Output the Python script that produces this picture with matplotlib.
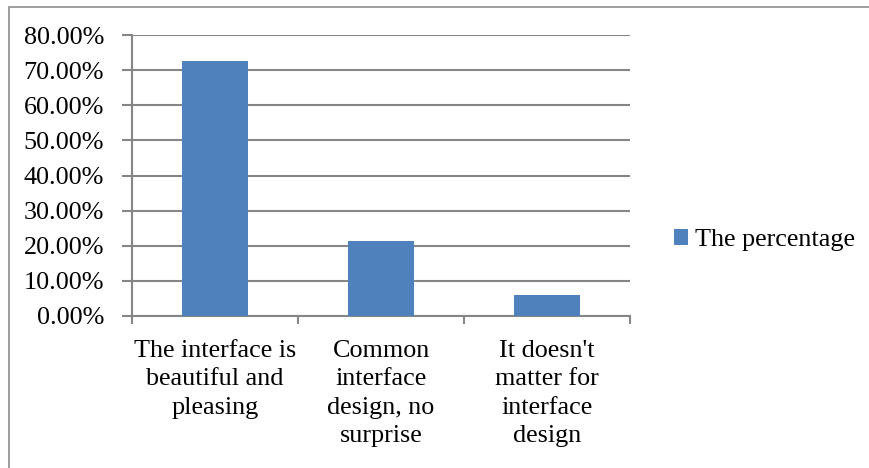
import numpy as np
import matplotlib
matplotlib.use("Agg")
import matplotlib.pyplot as plt
from matplotlib.patches import Rectangle
from matplotlib.ticker import FuncFormatter

categories = ["The interface is\nbeautiful and\npleasing",
              "Common\ninterface\ndesign, no\nsurprise",
              "It doesn't\nmatter for\ninterface\ndesign"]
values = [72.7, 21.4, 5.9]
series_name = "The percentage"

plt.rcParams["font.family"] = ["Liberation Serif", "DejaVu Serif"]

bar_color = "#4f81bd"
grid_color = "#868686"
fs = 18.8

fig = plt.figure(figsize=(8.69, 4.68), dpi=100)
ax = fig.add_axes([132 / 869, 152 / 468, 498 / 869, 281 / 468])

# outer chart border
fig.patches.append(Rectangle((9 / 869, -0.1), 1.2, (468 - 7) / 468 + 0.1,
                             transform=fig.transFigure, fill=False,
                             edgecolor="#8c8c8c", linewidth=1.2))

x = np.arange(len(categories)) + 0.5
bars = ax.bar(x, values, width=0.4, color=bar_color, label=series_name, zorder=3)

ax.set_xlim(0, len(categories))
ax.set_ylim(0, 80)
ax.set_yticks(np.arange(0, 81, 10))
ax.yaxis.set_major_formatter(FuncFormatter(lambda v, p: "%.2f%%" % v))
ax.grid(axis="y", color=grid_color, linewidth=1.5, zorder=0)
ax.set_axisbelow(True)

for side in ["top", "right"]:
    ax.spines[side].set_visible(False)
for side in ["left", "bottom"]:
    ax.spines[side].set_color(grid_color)
    ax.spines[side].set_linewidth(1.5)

ax.tick_params(axis="y", length=7, width=1.5, color=grid_color, labelsize=fs, pad=13)
ax.set_xticks(np.arange(len(categories) + 1))
ax.set_xticklabels([])
ax.tick_params(axis="x", length=6, width=1.5, color=grid_color)

for xi, label in zip(x, categories):
    ax.annotate(label, xy=(xi, 0), xycoords=("data", "axes fraction"),
                xytext=(0, -17), textcoords="offset points",
                ha="center", va="top", fontsize=fs, linespacing=1.38)

fig.legend(handles=[bars], labels=[series_name], loc="center left",
           bbox_to_anchor=(650 / 869, 1 - 240 / 468), frameon=False,
           fontsize=fs, handlelength=0.54, handleheight=0.54, handletextpad=0.27)

fig.savefig("out.png", dpi=100, facecolor="white")
